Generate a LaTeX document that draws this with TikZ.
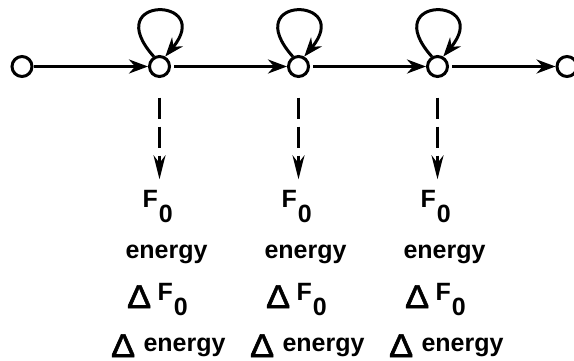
\documentclass[tikz,border=0pt]{standalone}
\usepackage{fontspec}
\setmainfont{Liberation Sans}
\newfontfamily\deltafont[FakeBold=1.6]{Liberation Sans}
\usetikzlibrary{arrows.meta}
\begin{document}
\begin{tikzpicture}[x=1bp,y=-1bp, line width=3bp,
  st/.style={circle, draw, minimum size=20bp, inner sep=0pt},
  arr/.style={-{Stealth[length=19bp,width=14bp]}},
  darr/.style={-{Stealth[length=24bp,width=12bp]}, dash pattern=on 21bp off 8bp},
  lbl/.style={anchor=base west, inner sep=0pt, font=\bfseries\fontsize{25bp}{30bp}\selectfont},
  dlt/.style={anchor=base west, inner sep=0pt, font=\deltafont\fontsize{33bp}{36bp}\selectfont}]
\useasboundingbox (0,0) rectangle (574,360);
\node[st] (s0) at (22,66.5) {};
\node[st] (s4) at (567,66.5) {};
\foreach \i in {1,2,3}{
  \pgfmathsetmacro{\cx}{159.5+139*(\i-1)}
  \node[st] (s\i) at (\cx,66.5) {};
  \draw[arr] (s\i.120) .. controls +(-55,-62) and +(50,-60) .. (s\i.60);
  \node[lbl] (f\i) at (\cx-18.5,207) {F\kern1bp\raisebox{-15bp}{0}};
  \node[lbl] (e\i) at (\cx-35.5,258) {energy};
  \node[dlt] (d\i) at (\cx-34,308) {\scalebox{1.1}[1]{Δ}};
  \node[lbl] (df\i) at (\cx-3.5,300) {F\kern1bp\raisebox{-15bp}{0}};
  \node[dlt] (dd\i) at (\cx-50,357) {\scalebox{1.1}[1]{Δ}};
  \node[lbl] (de\i) at (\cx-17.5,351.5) {energy};
  \draw[darr, shorten <=19.7bp, shorten >=9bp] (s\i.south) -- (s\i.south |- f\i.north);
}
\draw[arr] (s0) -- (s1);
\draw[arr, shorten <=3bp] (s1) -- (s2);
\draw[arr, shorten <=3bp] (s2) -- (s3);
\draw[arr, shorten <=3bp] (s3) -- (s4);
\end{tikzpicture}
\end{document}
